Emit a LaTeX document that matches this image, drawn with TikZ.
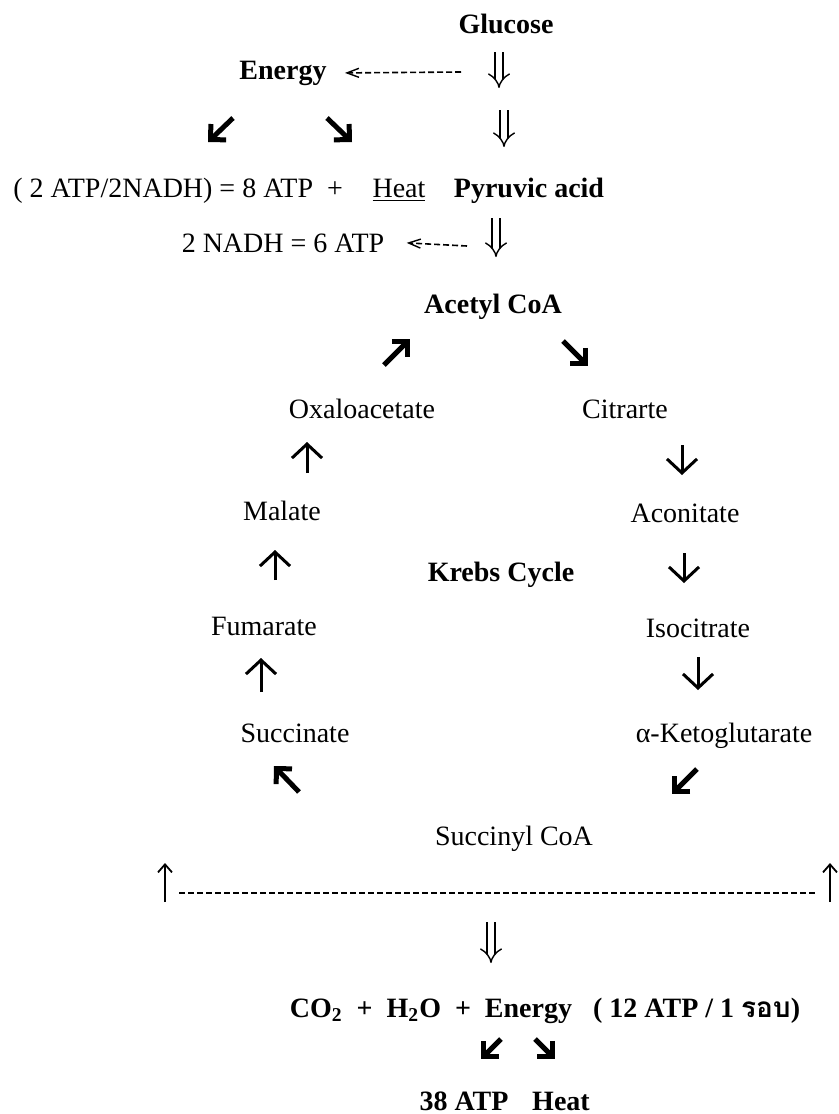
\documentclass[tikz,border=0pt]{standalone}
\usepackage{fontspec}
\setmainfont{Liberation Serif}
\newfontfamily\thaifont[Script=Thai]{Loma}
\usetikzlibrary{arrows.meta,calc}

\begin{document}
\begin{tikzpicture}[x=0.5pt,y=-0.5pt,
		txt/.style={inner sep=0pt,anchor=base,font=\fontsize{14}{16}\selectfont},
		btxt/.style={txt,font=\fontsize{14}{16}\selectfont\bfseries},
		dbl/.style={double,double distance=3.2pt,line width=0.7pt,-{Implies[length=5pt,width=11pt]}},
		heavy/.style={line width=2.5pt,line join=miter,-{Straight Barb[length=5.5pt,width=11pt,line join=miter]}},
		cyc/.style={line width=1.5pt,-{Straight Barb[length=7pt,width=15pt]}},
		thin/.style={line width=0.9pt,-{Straight Barb[length=4pt,width=7pt]}},
		dline/.style={line width=0.8pt,dash pattern=on 3pt off 1.5pt},
		lt/.style={-{Straight Barb[length=6pt,width=4.5pt,line width=0.7pt]}}]
			%%%%% START %%%%%
			
			\useasboundingbox (0,0) rectangle (839,1114);
			
			\node[btxt] (glucose) at (506,33) {Glucose};
			\node[btxt] (energy) at (283,79) {Energy};
			\node[txt,anchor=base west] (gly) at (13,197) {( 2 ATP/2NADH) = 8 ATP \ +};
			\node[txt] (heat1) at (399,197) {\underline{Heat}};
			\node[btxt] (pyruvic) at (529,197) {Pyruvic acid};
			\node[txt] (nadh) at (283,252) {2 NADH = 6 ATP};
			
			\draw[dbl] (499,52) -- (499,88);
			\draw[dbl] (504,110) -- (504,147);
			\draw[dbl] (496,218) -- (496,257);
			\draw[dline,lt] (461,72) -- ($(energy.east)+(18,0)$);
			\draw[dline,lt] (467,246) -- ($(nadh.east)+(22,0)$);
			\draw[heavy] (233,118) -- (208,142);
			\draw[heavy] (327,118) -- (352,142);
			
			\node[btxt] (acetyl) at (493,313) {Acetyl CoA};
			\node[txt] (oxalo) at (362,418) {Oxaloacetate};
			\node[txt] (citrate) at (625,418) {Citrarte};
			\node[txt] (malate) at (282,520) {Malate};
			\node[txt] (aconitate) at (685,522) {Aconitate};
			\node[btxt] (krebs) at (501,581) {Krebs Cycle};
			\node[txt] (fumarate) at (264,635) {Fumarate};
			\node[txt] (isocitrate) at (698,637) {Isocitrate};
			\node[txt] (succinate) at (295,742) {Succinate};
			\node[txt] (keto) at (724,742) {α-Ketoglutarate};
			\node[txt] (succinyl) at (514,845) {Succinyl CoA};
			
			\draw[heavy] (384,365) -- (410,339);
			\draw[heavy] (563,341) -- (588,366);
			\draw[cyc] (307,473) -- (307,442);
			\draw[cyc] (682,445) -- (682,475);
			\draw[cyc] (275,580) -- (275,550);
			\draw[cyc] (684,553) -- (684,583);
			\draw[cyc] (261,692) -- (261,658);
			\draw[cyc] (698,657) -- (698,690);
			\draw[heavy] (299,792) -- (274,766);
			\draw[heavy] (697,769) -- (672,794);
			
			\draw[thin] (165,902) -- (165,863);
			\draw[dline] (179,893) -- (818,893);
			\draw[thin] (830,902) -- (830,863);
			
			\node[btxt] (products) at (545,1017) {CO\textsubscript{2} \ + \ H\textsubscript{2}O \ + \ Energy \ \ ( 12 ATP / 1 {\thaifont รอบ})};
			\node[btxt] (atp38) at (464,1110) {38 ATP};
			\node[btxt] (heat2) at (561,1110) {Heat};
			
			\draw[dbl] (491,922) -- (491,963);
			\draw[heavy] (501,1039) -- (481,1059);
			\draw[heavy] (535,1039) -- (555,1059);
			
			%%%%% END %%%%%
\end{tikzpicture}
\end{document}
